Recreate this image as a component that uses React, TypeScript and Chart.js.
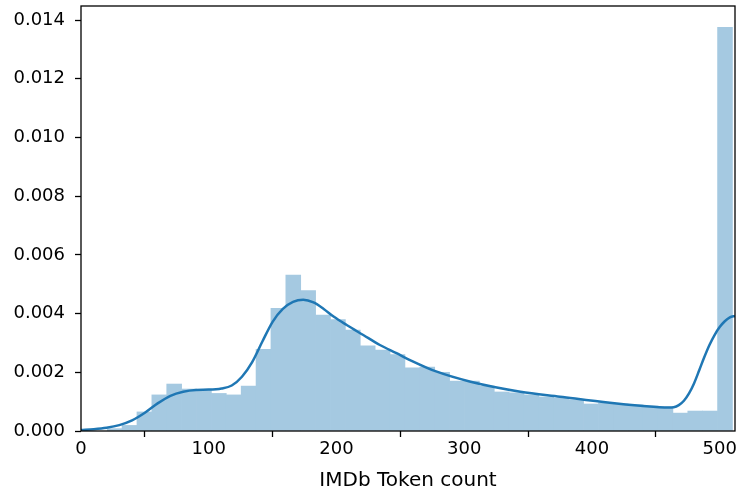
import React, { useEffect, useRef } from "react";
import { Chart, registerables } from "chart.js";

Chart.register(...registerables);

// Histogram (density) — bins start at binStart, each binWidth wide
const binStart = 20.5;
const binWidth = 11.655;
const histDensity = [
  0.00008, 0.00019, 0.00065, 0.00123, 0.0016, 0.00143, 0.0014, 0.00128,
  0.00123, 0.00153, 0.00278, 0.00418, 0.00531, 0.00478, 0.00395, 0.0038,
  0.00344, 0.0029, 0.00276, 0.0026, 0.00215, 0.00218, 0.002, 0.0017,
  0.0017, 0.00153, 0.00133, 0.0013, 0.00123, 0.00116, 0.00112, 0.00106,
  0.00092, 0.00095, 0.00092, 0.00089, 0.00085, 0.00082, 0.00061, 0.00068,
  0.00068, 0.01375,
];

// KDE curve samples
const kdeX = [
  0, 10, 20, 30, 40, 50, 60, 70, 80, 90, 100, 110, 118, 126, 134, 142, 150,
  158, 166, 174, 182, 190, 198, 208, 221, 234, 247, 258, 278, 305, 344, 375,
  414, 438, 460, 464, 468, 472, 476, 480, 484, 488, 492, 496, 500, 504, 508,
  512,
];
const kdeY = [
  0.00003, 0.00006, 0.00011, 0.0002, 0.00036, 0.00062, 0.00094, 0.0012,
  0.00134, 0.0014, 0.00141, 0.00145, 0.00155, 0.00185, 0.00235, 0.00305,
  0.00372, 0.00416, 0.0044, 0.00447, 0.00438, 0.00416, 0.00389, 0.00361,
  0.00327, 0.00293, 0.00265, 0.00241, 0.00203, 0.00168, 0.00134, 0.00117,
  0.00096, 0.00086, 0.0008, 0.00081, 0.00088, 0.00103, 0.00128, 0.00163,
  0.00207, 0.00252, 0.00293, 0.00327, 0.00354, 0.00374, 0.00387, 0.00392,
];

const xTicks = [0, 100, 200, 300, 400, 500];
const yTicks = [0, 0.002, 0.004, 0.006, 0.008, 0.01, 0.012, 0.014];
const xLabel = "IMDb Token count";

const FONT = "'DejaVu Sans', sans-serif";

export default function App() {
  const ref = useRef<HTMLCanvasElement>(null);

  useEffect(() => {
    if (!ref.current) return;
    const barData = histDensity.map((v, i) => ({
      x: binStart + binWidth * (i + 0.5),
      y: v,
    }));
    const lineData = kdeX.map((x, i) => ({ x, y: kdeY[i] }));

    const spines = {
      id: "spines",
      afterDatasetsDraw(chart: any) {
        const { ctx, chartArea: a } = chart;
        ctx.save();
        ctx.strokeStyle = "#000";
        ctx.lineWidth = 1.3;
        ctx.strokeRect(a.left, a.top, a.right - a.left, a.bottom - a.top);
        ctx.restore();
      },
    };

    const chart = new Chart(ref.current, {
      type: "bar",
      data: {
        datasets: [
          {
            type: "line",
            data: lineData,
            borderColor: "#1f77b4",
            borderWidth: 2.5,
            pointRadius: 0,
            cubicInterpolationMode: "monotone",
            fill: false,
            order: 0,
          } as any,
          {
            type: "bar",
            data: barData,
            backgroundColor: "#a5c9e1",
            borderWidth: 0,
            barPercentage: 1,
            categoryPercentage: 1,
            grouped: false,
            order: 1,
          } as any,
        ],
      },
      options: {
        responsive: false,
        animation: false,
        events: [],
        layout: { padding: { top: 6, right: 5, left: 0, bottom: 0 } },
        plugins: {
          legend: { display: false },
          tooltip: { enabled: false },
        },
        scales: {
          x: {
            type: "linear",
            min: 0,
            max: 512,
            offset: false,
            border: { display: false },
            grid: {
              display: true,
              drawOnChartArea: false,
              drawTicks: true,
              tickLength: 6,
              tickColor: "#000",
              tickWidth: 1.3,
            },
            ticks: {
              color: "#000",
              font: { family: FONT, size: 18 },
              padding: 2,
              maxRotation: 0,
              includeBounds: false,
              callback: (v: any) => String(v),
            },
            afterBuildTicks: (s: any) => {
              s.ticks = xTicks.map((value) => ({ value }));
            },
            afterFit: (s: any) => {
              s.height = 66;
              s.paddingLeft = 0;
              s.paddingRight = 0;
            },
            title: {
              display: true,
              text: xLabel,
              color: "#000",
              font: { family: FONT, size: 20 },
              padding: { top: 0, bottom: 4 },
            },
          } as any,
          y: {
            type: "linear",
            min: 0,
            max: 0.01448,
            border: { display: false },
            grid: {
              display: true,
              drawOnChartArea: false,
              drawTicks: true,
              tickLength: 6,
              tickColor: "#000",
              tickWidth: 1.3,
            },
            ticks: {
              color: "#000",
              font: { family: FONT, size: 18 },
              padding: 10,
              includeBounds: false,
              callback: (v: any) => Number(v).toFixed(3),
            },
            afterBuildTicks: (s: any) => {
              s.ticks = yTicks.map((value) => ({ value }));
            },
            afterFit: (s: any) => {
              s.width = 81;
              s.paddingTop = 0;
              s.paddingBottom = 0;
            },
          } as any,
        },
      },
      plugins: [spines],
    });
    return () => chart.destroy();
  }, []);

  return (
    <div
      style={{
        position: "fixed",
        left: 0,
        top: 0,
        width: 740,
        height: 497,
        background: "#fff",
      }}
    >
      <canvas ref={ref} width={740} height={497} />
    </div>
  );
}
